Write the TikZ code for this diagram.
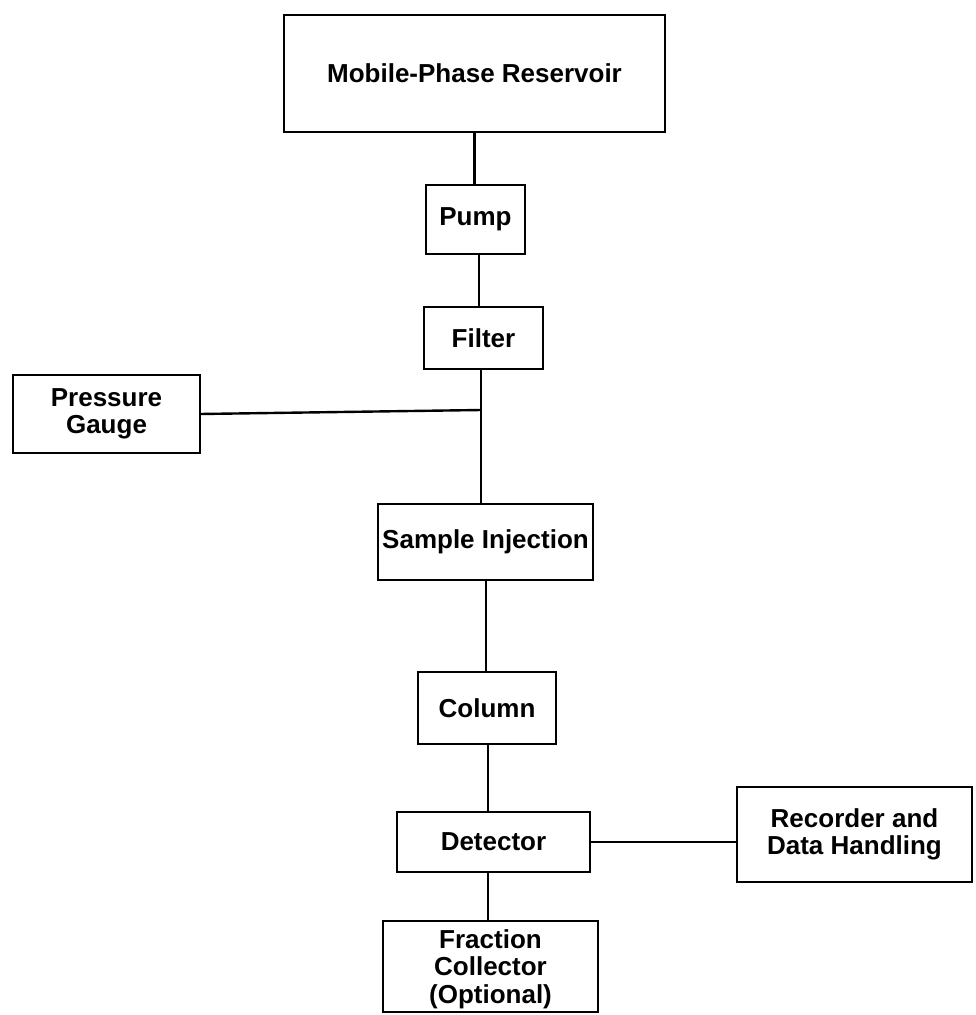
\documentclass[tikz,border=0pt]{standalone}
\usepackage{fontspec}
\setmainfont{Liberation Sans}
\begin{document}
\begin{tikzpicture}[x=1pt,y=-1pt,
  line width=2.6pt,
  unit/.style={draw, rectangle, inner sep=0pt, outer sep=0pt,
    align=center, font=\fontsize{26}{27.5}\selectfont\bfseries},
  pipe/.style={draw, line width=2.4pt}]
\useasboundingbox (0,0) rectangle (976,1015);

% components of the chromatograph
\node[unit, minimum width=381pt, minimum height=117pt] (res)  at (474.5,73.5) {Mobile-Phase Reservoir};
\node[unit, minimum width=99pt,  minimum height=69pt]  (pump) at (475.5,219.5) {Pump};
\node[unit, minimum width=119pt, minimum height=62pt]  (filt) at (483.5,338) {Filter};
\node[unit, minimum width=187pt, minimum height=78pt]  (gauge) at (106.5,414) {Pressure\\Gauge};
\node[unit, minimum width=215pt, minimum height=76pt]  (inj)  at (485.5,542) {Sample Injection};
\node[unit, minimum width=138pt, minimum height=72pt]  (col)  at (487,708) {Column};
\node[unit, minimum width=193pt, minimum height=60pt]  (det)  at (493.5,842) {Detector};
\node[unit, minimum width=235pt, minimum height=95pt]  (rec)  at (854.5,834.5) {Recorder and\\Data Handling};
\node[unit, minimum width=215pt, minimum height=91pt, text depth=0pt] (frac) at (490.5,966.5) {Fraction\\Collector\\(Optional)};

% flow path
\coordinate (tee) at (481,410);
\draw[pipe] (res.south) -- (res.south |- pump.north);
\draw[pipe] ([xshift=3.5pt]pump.south) -- ([xshift=3.5pt]pump.south |- filt.north);
\draw[pipe] ([xshift=-2.5pt]filt.south) -- (tee) -- (tee |- inj.north);
\draw[pipe] (gauge.east) -- (tee);
\draw[pipe] ([xshift=0.5pt]inj.south) -- ([xshift=0.5pt]inj.south |- col.north);
\draw[pipe] ([xshift=1pt]col.south) -- ([xshift=1pt]col.south |- det.north);
\draw[pipe] (det.east) -- (det.east -| rec.west);
\draw[pipe] ([xshift=-5.5pt]det.south) -- ([xshift=-5.5pt]det.south |- frac.north);
\end{tikzpicture}
\end{document}
